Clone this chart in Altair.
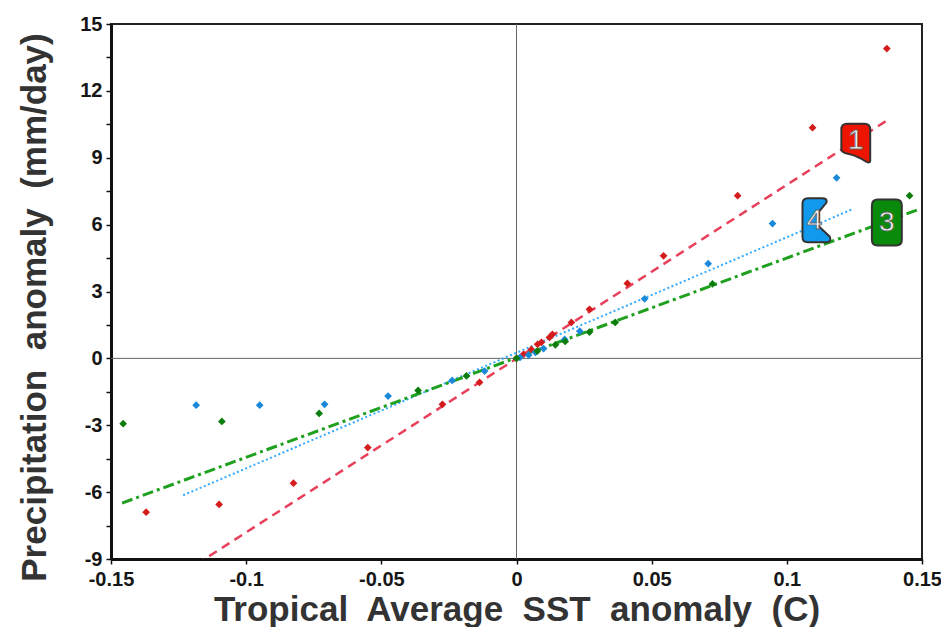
import altair as alt
import pandas as pd

# ---- data ----
red_x = [-0.137, -0.110, -0.0825, -0.055, -0.0274, -0.0137, 0.0, 0.0026, 0.0055, 0.0078,
         0.0092, 0.0122, 0.0133, 0.0203, 0.027, 0.041, 0.0544, 0.0818, 0.1095, 0.137]
red_y = [-6.9, -6.55, -5.6, -4.0, -2.06, -1.08, 0.0, 0.18, 0.4, 0.63,
         0.72, 0.94, 1.08, 1.61, 2.2, 3.36, 4.6, 7.3, 10.35, 13.9]

blue_x = [-0.1185, -0.095, -0.071, -0.0475, -0.0238, -0.0118, 0.0013, 0.0045, 0.007, 0.010,
          0.0178, 0.0234, 0.0474, 0.0709, 0.0947, 0.1184]
blue_y = [-2.1, -2.1, -2.06, -1.69, -0.99, -0.57, 0.04, 0.15, 0.27, 0.44,
          0.85, 1.22, 2.67, 4.25, 6.05, 8.1]

green_x = [-0.1455, -0.109, -0.073, -0.0364, -0.0185, 0.0, 0.0077, 0.0144, 0.018, 0.027,
           0.0365, 0.0725, 0.1454]
green_y = [-2.93, -2.83, -2.47, -1.44, -0.79, 0.0, 0.33, 0.61, 0.76, 1.18,
           1.61, 3.34, 7.3]

# regression line end points
red_fit_x = [-0.137, 0.137]
red_fit_y = [-10.69, 10.67]
blue_fit_x = [-0.1233, 0.1246]
blue_fit_y = [-6.14, 6.71]
green_fit_x = [-0.1459, 0.1487]
green_fit_y = [-6.49, 6.68]

# series badges
badge_ids = ["1", "4", "3"]
badge_x = [0.1255, 0.111, 0.137]
badge_y = [9.65, 6.2, 6.1]

x_ticks = [-0.15, -0.1, -0.05, 0, 0.05, 0.1, 0.15]
y_ticks = [-9, -7.5, -6, -4.5, -3, -1.5, 0, 1.5, 3, 4.5, 6, 7.5, 9, 10.5, 12, 13.5, 15]
zero = [0]

RED_PT, RED_LN, RED_BADGE = "#d41c1c", "#e8405a", "#ee1500"
BLUE_PT, BLUE_LN, BLUE_BADGE = "#1a88d8", "#33aaff", "#1199ee"
GREEN_PT, GREEN_LN, GREEN_BADGE = "#0c7d0c", "#1fa01f", "#0a8a0a"

xs = alt.Scale(domain=[-0.15, 0.15], nice=False, zero=False)
ys = alt.Scale(domain=[-9, 15], nice=False, zero=False)

FONT = "Liberation Sans"
x_axis = alt.Axis(
    values=x_ticks, grid=False, title="Tropical\u00a0 Average\u00a0 SST\u00a0 anomaly\u00a0 (C)",
    labelExpr="datum.value < 0 ? '-' + format(-datum.value, '~g') : format(datum.value, '~g')",
    labelFont=FONT, labelFontSize=20, labelFontWeight="bold", labelColor="#161616",
    titleFont=FONT, titleFontSize=35, titleFontWeight="bold", titleColor="#333",
    domainColor="#111", domainWidth=3, tickColor="#111", tickWidth=1.5, tickSize=5,
    labelPadding=5, titlePadding=3, labelFlush=False, labelOverlap=False,
)
y_axis = alt.Axis(
    values=y_ticks, grid=False, title="Precipitation\u00a0 anomaly\u00a0 (mm/day)",
    labelExpr="datum.value % 3 == 0 ? (datum.value < 0 ? '-' + format(-datum.value, 'd') : format(datum.value, 'd')) : ''",
    labelFont=FONT, labelFontSize=20, labelFontWeight="bold", labelColor="#161616",
    titleFont=FONT, titleFontSize=35, titleFontWeight="bold", titleColor="#333",
    domainColor="#111", domainWidth=3, tickColor="#111", tickWidth=1.5, tickSize=5,
    labelPadding=4, titlePadding=27, titleY=283, labelFlush=False, labelOverlap=False,
)

zdf = pd.DataFrame({"v": zero})
vrule = alt.Chart(zdf).mark_rule(color="#666", strokeWidth=1).encode(
    x=alt.X("v:Q", scale=xs, axis=x_axis))
hrule = alt.Chart(zdf).mark_rule(color="#666", strokeWidth=1).encode(
    y=alt.Y("v:Q", scale=ys, axis=y_axis))


def fit(xv, yv, color, dash, width):
    df = pd.DataFrame({"x": xv, "y": yv})
    return alt.Chart(df).mark_line(color=color, strokeDash=dash, strokeWidth=width, clip=True).encode(
        x=alt.X("x:Q", scale=xs, axis=x_axis), y=alt.Y("y:Q", scale=ys, axis=y_axis))


def pts(xv, yv, color):
    df = pd.DataFrame({"x": xv, "y": yv})
    return alt.Chart(df).mark_point(shape="diamond", filled=True, size=60, color=color, opacity=1).encode(
        x=alt.X("x:Q", scale=xs, axis=x_axis), y=alt.Y("y:Q", scale=ys, axis=y_axis))


badge_shapes = {
    "1": "M -0.74,-0.7 Q -0.74,-1 -0.45,-1 L 0.45,-1 Q 0.74,-1 0.74,-0.7 L 0.74,0.88 Q 0.74,1.05 0.55,0.95 L 0.3,0.8 L -0.1,0.62 L -0.55,0.5 Q -0.74,0.45 -0.74,0.3 Z",
    "4": "M -0.64,-0.75 Q -0.64,-1 -0.4,-1 L 0.25,-1 Q 0.5,-1 0.45,-0.8 L 0.12,-0.4 L 0.12,0.3 L 0.6,0.75 Q 0.7,1 0.45,1 L -0.4,1 Q -0.64,1 -0.64,0.75 Z",
    "3": "M -0.65,-0.75 Q -0.65,-1 -0.4,-1 L 0.4,-1 Q 0.65,-1 0.65,-0.75 L 0.65,0.75 Q 0.65,1 0.4,1 L -0.4,1 Q -0.65,1 -0.65,0.75 Z",
}
badge_sizes = {"1": 39 ** 2, "4": 44 ** 2, "3": 46 ** 2}
badge_colors = {"1": RED_BADGE, "4": BLUE_BADGE, "3": GREEN_BADGE}

badges = []
for i, b in enumerate(badge_ids):
    df = pd.DataFrame({"x": [badge_x[i]], "y": [badge_y[i]], "t": [b]})
    base = alt.Chart(df).encode(x=alt.X("x:Q", scale=xs, axis=x_axis), y=alt.Y("y:Q", scale=ys, axis=y_axis))
    badges.append(base.mark_point(shape=badge_shapes[b], size=badge_sizes[b], filled=True,
                                  fill=badge_colors[b], stroke="#333", strokeWidth=2, opacity=1))
    badges.append(base.mark_text(font=FONT, fontSize=28, fill="white", stroke="#666", strokeWidth=0.8,
                                 baseline="middle", align="center", dx=(-2 if b == "4" else 0),
                                 dy=(-2 if b == "1" else 1)).encode(text="t:N"))

chart = alt.layer(
    vrule, hrule,
    fit(red_fit_x, red_fit_y, RED_LN, [9, 6], 2.5),
    fit(blue_fit_x, blue_fit_y, BLUE_LN, [2, 2.5], 2),
    fit(green_fit_x, green_fit_y, GREEN_LN, [11, 4, 3, 4], 3),
    pts(red_x, red_y, RED_PT),
    pts(blue_x, blue_y, BLUE_PT),
    pts(green_x, green_y, GREEN_PT),
    *badges,
).properties(
    width=811, height=535,
    autosize=alt.AutoSizeParams(type="none"),
    padding={"left": 103, "top": 16, "right": 19, "bottom": 68},
).configure_view(stroke="#222", strokeWidth=2)

chart.save("out.html", embed_options={"renderer": "svg", "actions": False})
